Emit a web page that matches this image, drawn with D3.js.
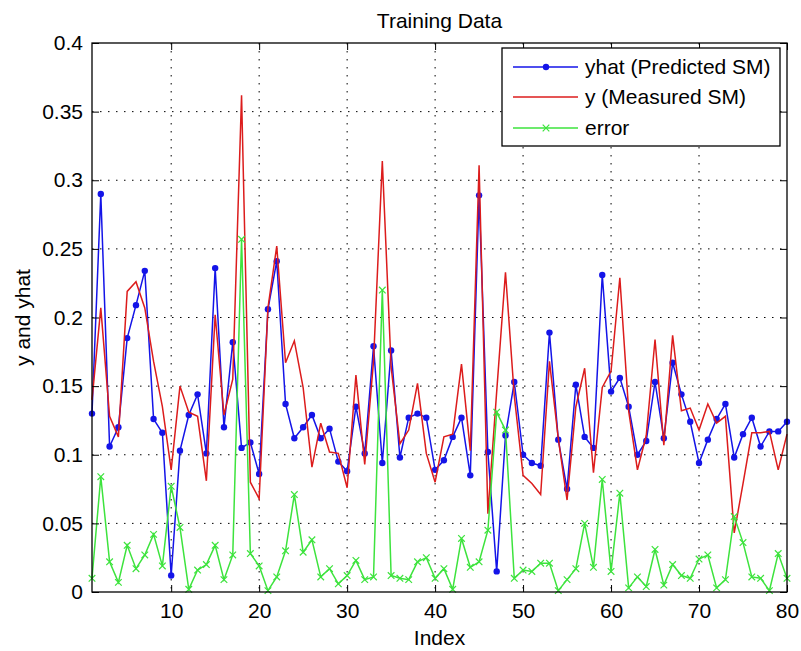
<!DOCTYPE html>
<html>
<head>
<meta charset="utf-8">
<script src="https://cdn.jsdelivr.net/npm/d3@7"></script>
<style>
  body { margin: 0; background: #fff; }
  svg text { font-family: "Liberation Sans", Arial, sans-serif; fill: #000; }
</style>
</head>
<body>
<svg id="chart" width="801" height="651"></svg>
<script>
(function() {

// sample index on the x axis
const sampleIndex = d3.range(1, 81);

// yhat (Predicted SM)
const yhatValues = [
  0.130, 0.290, 0.106, 0.120, 0.185, 0.209, 0.234, 0.126, 0.116, 0.012,
  0.103, 0.129, 0.144, 0.101, 0.236, 0.120, 0.182, 0.105, 0.109, 0.086,
  0.206, 0.241, 0.137, 0.112, 0.120, 0.129, 0.112, 0.119, 0.095, 0.088,
  0.135, 0.101, 0.179, 0.094, 0.176, 0.098, 0.127, 0.130, 0.127, 0.089,
  0.096, 0.113, 0.127, 0.085, 0.289, 0.102, 0.015, 0.114, 0.153, 0.100,
  0.094, 0.092, 0.189, 0.111, 0.075, 0.151, 0.113, 0.105, 0.231, 0.146,
  0.156, 0.135, 0.100, 0.110, 0.153, 0.112, 0.167, 0.144, 0.124, 0.094,
  0.111, 0.126, 0.137, 0.098, 0.115, 0.127, 0.106, 0.117, 0.117, 0.124
];

// y (Measured SM)
const yValues = [
  0.140, 0.207, 0.128, 0.113, 0.219, 0.226, 0.207, 0.168, 0.135, 0.089,
  0.150, 0.131, 0.128, 0.081, 0.202, 0.129, 0.155, 0.362, 0.080, 0.068,
  0.207, 0.252, 0.167, 0.183, 0.149, 0.091, 0.123, 0.102, 0.101, 0.076,
  0.158, 0.093, 0.168, 0.314, 0.164, 0.108, 0.118, 0.152, 0.101, 0.080,
  0.113, 0.115, 0.166, 0.103, 0.311, 0.057, 0.146, 0.233, 0.143, 0.085,
  0.079, 0.071, 0.168, 0.112, 0.067, 0.135, 0.163, 0.087, 0.149, 0.161,
  0.229, 0.132, 0.089, 0.114, 0.184, 0.107, 0.187, 0.132, 0.134, 0.118,
  0.137, 0.123, 0.128, 0.043, 0.079, 0.116, 0.116, 0.117, 0.089, 0.115
];

// error
const errorValues = [
  0.010, 0.084, 0.022, 0.007, 0.034, 0.017, 0.027, 0.042, 0.019, 0.077,
  0.047, 0.002, 0.016, 0.020, 0.034, 0.009, 0.027, 0.257, 0.028, 0.019,
  0.001, 0.011, 0.030, 0.071, 0.029, 0.038, 0.011, 0.017, 0.006, 0.012,
  0.023, 0.009, 0.011, 0.220, 0.012, 0.010, 0.009, 0.022, 0.025, 0.010,
  0.017, 0.002, 0.039, 0.018, 0.022, 0.045, 0.131, 0.118, 0.010, 0.016,
  0.015, 0.021, 0.021, 0.001, 0.009, 0.017, 0.050, 0.018, 0.082, 0.015,
  0.072, 0.003, 0.011, 0.004, 0.031, 0.005, 0.020, 0.012, 0.010, 0.024,
  0.027, 0.003, 0.009, 0.055, 0.036, 0.011, 0.010, 0.001, 0.028, 0.010
];

const xTicks = [10, 20, 30, 40, 50, 60, 70, 80];
const yTicks = [0, 0.05, 0.1, 0.15, 0.2, 0.25, 0.3, 0.35, 0.4];
const yTickLabels = ["0", "0.05", "0.1", "0.15", "0.2", "0.25", "0.3", "0.35", "0.4"];
const seriesNames = ["yhat (Predicted SM)", "y (Measured SM)", "error"];

const colorBlue = "#1414e8";
const colorRed = "#dc1c1c";
const colorGreen = "#3de33d";

const margin = { top: 43, right: 14, bottom: 59, left: 92 };
const width = 801 - margin.left - margin.right;
const height = 651 - margin.top - margin.bottom;
const tickLen = 7;

const svg = d3.select("#chart");
const g = svg.append("g")
    .attr("transform", `translate(${margin.left},${margin.top})`);

const x = d3.scaleLinear().domain([1, 80]).range([0, width]);
const y = d3.scaleLinear().domain([0, 0.4]).range([height, 0]);

// dotted grid
g.append("g")
  .selectAll("line")
  .data(xTicks.filter(t => t < 80))
  .join("line")
    .attr("x1", d => x(d)).attr("x2", d => x(d))
    .attr("y1", 0).attr("y2", height)
    .attr("stroke", "#000")
    .attr("stroke-width", 1)
    .attr("stroke-dasharray", "1.5,6.5");

g.append("g")
  .selectAll("line")
  .data(yTicks.filter(t => t > 0 && t < 0.4))
  .join("line")
    .attr("x1", 0).attr("x2", width)
    .attr("y1", d => y(d)).attr("y2", d => y(d))
    .attr("stroke", "#000")
    .attr("stroke-width", 1)
    .attr("stroke-dasharray", "1.5,6.5");

// series
const idx = sampleIndex.map((d, i) => i);

const lineOf = vals => d3.line()
    .x(i => x(sampleIndex[i]))
    .y(i => y(vals[i]));

g.append("path")
    .datum(idx)
    .attr("fill", "none")
    .attr("stroke", colorBlue)
    .attr("stroke-width", 1.5)
    .attr("d", lineOf(yhatValues));

g.append("g")
  .selectAll("circle")
  .data(idx)
  .join("circle")
    .attr("cx", i => x(sampleIndex[i]))
    .attr("cy", i => y(yhatValues[i]))
    .attr("r", 3.2)
    .attr("fill", colorBlue);

g.append("path")
    .datum(idx)
    .attr("fill", "none")
    .attr("stroke", colorRed)
    .attr("stroke-width", 1.5)
    .attr("d", lineOf(yValues));

g.append("path")
    .datum(idx)
    .attr("fill", "none")
    .attr("stroke", colorGreen)
    .attr("stroke-width", 1.5)
    .attr("d", lineOf(errorValues));

const cross = s => `M${-s},${-s}L${s},${s}M${-s},${s}L${s},${-s}`;

g.append("g")
  .selectAll("path")
  .data(idx)
  .join("path")
    .attr("transform", i => `translate(${x(sampleIndex[i])},${y(errorValues[i])})`)
    .attr("d", cross(3.3))
    .attr("stroke", colorGreen)
    .attr("stroke-width", 1.2)
    .attr("fill", "none");

// axes, MATLAB style ticks pointing inward
const axisStyle = sel => {
  sel.select(".domain").remove();
  sel.selectAll(".tick line").attr("stroke", "#000");
  sel.selectAll("text").attr("font-size", 21);
};

g.append("g")
    .attr("transform", `translate(0,${height})`)
    .call(d3.axisBottom(x).tickValues(xTicks).tickSizeInner(-tickLen).tickSizeOuter(0).tickPadding(11))
    .call(axisStyle);

g.append("g")
    .call(d3.axisTop(x).tickValues(xTicks).tickSizeInner(-tickLen).tickSizeOuter(0).tickFormat(""))
    .call(axisStyle);

g.append("g")
    .call(d3.axisLeft(y).tickValues(yTicks).tickSizeInner(-tickLen).tickSizeOuter(0).tickPadding(9)
      .tickFormat((d, i) => yTickLabels[i]))
    .call(axisStyle);

g.append("g")
    .attr("transform", `translate(${width},0)`)
    .call(d3.axisRight(y).tickValues(yTicks).tickSizeInner(-tickLen).tickSizeOuter(0).tickFormat(""))
    .call(axisStyle);

g.append("rect")
    .attr("width", width)
    .attr("height", height)
    .attr("fill", "none")
    .attr("stroke", "#000")
    .attr("stroke-width", 1.3);

// labels
svg.append("text")
    .attr("x", margin.left + width / 2)
    .attr("y", 28)
    .attr("text-anchor", "middle")
    .attr("font-size", 21)
    .text("Training Data");

svg.append("text")
    .attr("x", margin.left + width / 2)
    .attr("y", 645)
    .attr("text-anchor", "middle")
    .attr("font-size", 21)
    .text("Index");

svg.append("text")
    .attr("transform", `translate(30,${margin.top + height / 2}) rotate(-90)`)
    .attr("text-anchor", "middle")
    .attr("font-size", 21)
    .text("y and yhat");

// legend
const legend = svg.append("g").attr("transform", "translate(502,48)");
legend.append("rect")
    .attr("width", 278)
    .attr("height", 98)
    .attr("fill", "#fff")
    .attr("stroke", "#000")
    .attr("stroke-width", 1.3);

const rowY = [19, 49, 80];
const rowColors = [colorBlue, colorRed, colorGreen];

seriesNames.forEach((name, i) => {
  const row = legend.append("g").attr("transform", `translate(0,${rowY[i]})`);
  row.append("line")
      .attr("x1", 11).attr("x2", 76)
      .attr("stroke", rowColors[i])
      .attr("stroke-width", 1.5);
  if (i === 0) {
    row.append("circle").attr("cx", 44).attr("r", 3.2).attr("fill", colorBlue);
  }
  if (i === 2) {
    row.append("path")
        .attr("transform", "translate(44,0)")
        .attr("d", cross(3.3))
        .attr("stroke", colorGreen)
        .attr("stroke-width", 1.2);
  }
  row.append("text")
      .attr("x", 83)
      .attr("y", 7)
      .attr("font-size", 21)
      .text(name);
});

})();
</script>
</body>
</html>
